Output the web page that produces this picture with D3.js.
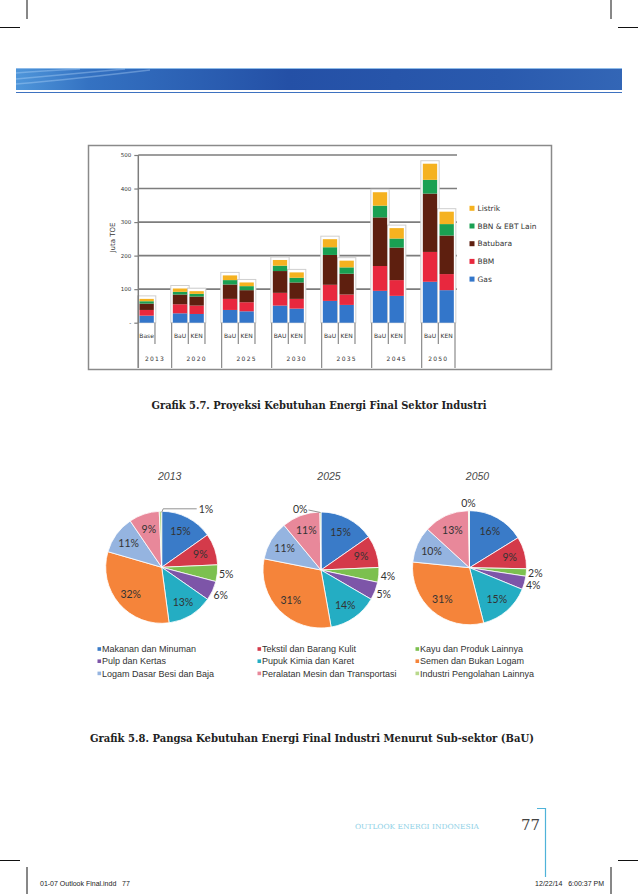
<!DOCTYPE html>
<html>
<head>
<meta charset="utf-8">
<script src="https://cdn.jsdelivr.net/npm/d3@7"></script>
<style>
  body { margin: 0; background: #fff; }
  svg { display: block; }
</style>
</head>
<body>
<script>
// --- bar chart data (Juta TOE) ---
var years = ["2013", "2020", "2025", "2030", "2035", "2045", "2050"];
var scenarios = [["Base"], ["BaU", "KEN"], ["BaU", "KEN"], ["BAU", "KEN"], ["BaU", "KEN"], ["BaU", "KEN"], ["BaU", "KEN"]];
var gas      = [21, 28, 26, 38, 34, 51, 42, 65, 53, 95, 80, 122, 97];
var bbm      = [17, 27, 25, 33, 27, 38, 29, 48, 31, 74, 47, 89, 48];
var batubara = [19, 29, 27, 43, 36, 65, 49, 89, 62, 145, 97, 174, 115];
var bbn      = [7, 8, 8, 13, 12, 16, 14, 23, 19, 35, 27, 41, 34];
var listrik  = [7, 10, 8, 14, 11, 17, 16, 24, 20, 40, 31, 48, 37];
var fuelNames = ["Gas", "BBM", "Batubara", "BBN & EBT Lain", "Listrik"];
var yTicks = [0, 100, 200, 300, 400, 500];

// --- pie data (% share, BaU) ---
var pieYears = ["2013", "2025", "2050"];
var sectors = ["Makanan dan Minuman", "Tekstil dan Barang Kulit", "Kayu dan Produk Lainnya",
  "Pulp dan Kertas", "Pupuk Kimia dan Karet", "Semen dan Bukan Logam",
  "Logam Dasar Besi dan Baja", "Peralatan Mesin dan Transportasi", "Industri Pengolahan Lainnya"];
var share2013 = [15.2, 9.1, 4.8, 5.6, 13.2, 31.6, 11.0, 8.8, 0.7];
var share2025 = [15.3, 9.0, 4.1, 5.0, 13.8, 30.9, 10.9, 10.7, 0.3];
var share2050 = [16.2, 9.1, 2.1, 3.8, 14.8, 30.6, 10.2, 12.9, 0.3];

var W = 638, H = 894;
var svg = d3.select("body").append("svg").attr("width", W).attr("height", H);
var defs = svg.append("defs");

// ---------- page furniture ----------
var crop = svg.append("g").attr("stroke", "#111").attr("stroke-width", 1);
[[27, 0, 27, 19], [611, 0, 611, 19], [0, 27.5, 20, 27.5], [618, 27.5, 638, 27.5],
 [0, 860.5, 20, 860.5], [618, 860.5, 638, 860.5], [27, 867, 27, 894], [611, 867, 611, 894]]
  .forEach(function(l) {
    crop.append("line").attr("x1", l[0]).attr("y1", l[1]).attr("x2", l[2]).attr("y2", l[3]);
  });

var hg = defs.append("linearGradient").attr("id", "hdr");
[["0%", "#4f96da"], ["12%", "#3472c2"], ["45%", "#2450a6"], ["80%", "#2a5aae"], ["100%", "#3366b6"]]
  .forEach(function(s) { hg.append("stop").attr("offset", s[0]).attr("stop-color", s[1]); });
svg.append("rect").attr("x", 16).attr("y", 68).attr("width", 606).attr("height", 22).attr("fill", "url(#hdr)");
svg.append("line").attr("x1", 16).attr("x2", 622).attr("y1", 68.5).attr("y2", 68.5)
  .attr("stroke", "#8fbbe8").attr("stroke-width", 1);
["M16,79 Q60,75 125,69", "M16,84 Q75,79 150,70", "M16,73 Q40,71 80,69"].forEach(function(p) {
  svg.append("path").attr("d", p).attr("fill", "none").attr("stroke", "#bfe0ff")
    .attr("stroke-opacity", 0.35).attr("stroke-width", 1.6);
});
svg.append("line").attr("x1", 16).attr("x2", 622).attr("y1", 92.5).attr("y2", 92.5)
  .attr("stroke", "#3e72c0").attr("stroke-width", 1);

// ---------- bar chart ----------
svg.append("rect").attr("x", 88.5).attr("y", 145.5).attr("width", 463).attr("height", 224)
  .attr("fill", "#fff").attr("stroke", "#8a8a8a").attr("stroke-width", 1.5);

var slotKeys = [], barKeys = [], groupEdges = [];
years.forEach(function(yr, i) {
  groupEdges.push(slotKeys.length);
  scenarios[i].forEach(function(sc) { slotKeys.push(yr + "|" + sc); barKeys.push(yr + "|" + sc); });
  if (i < years.length - 1) slotKeys.push(yr + "|gap");
});
groupEdges.push(slotKeys.length);

var x = d3.scaleBand().domain(slotKeys).range([138.3, 455]).paddingInner(0.14).paddingOuter(0.07);
var y = d3.scaleLinear().domain([0, 500]).range([322.7, 155]);
var slotStart = function(i) { return x.range()[0] + i * x.step(); };

var rows = barKeys.map(function(k, i) {
  return { key: k, Gas: gas[i], BBM: bbm[i], Batubara: batubara[i], BBN: bbn[i], Listrik: listrik[i] };
});
var stackKeys = ["Gas", "BBM", "Batubara", "BBN", "Listrik"];
var colors = { Gas: "#3376ca", BBM: "#e8283e", Batubara: "#5e1f0f", BBN: "#1aa052", Listrik: "#f5b220" };
var series = d3.stack().keys(stackKeys)(rows);

// gridlines
svg.append("g").selectAll("line").data(yTicks.slice(1)).join("line")
  .attr("x1", 138.3).attr("x2", 457).attr("y1", function(d) { return y(d); }).attr("y2", function(d) { return y(d); })
  .attr("stroke", "#7d7d7d").attr("stroke-width", 1.6);

// frames round each bar
svg.append("g").selectAll("rect").data(rows).join("rect")
  .attr("x", function(d) { return x(d.key) - 2; })
  .attr("width", x.bandwidth() + 4)
  .attr("y", function(d) { return y(d.Gas + d.BBM + d.Batubara + d.BBN + d.Listrik) - 3; })
  .attr("height", function(d) { return y(0) - y(d.Gas + d.BBM + d.Batubara + d.BBN + d.Listrik) + 3; })
  .attr("fill", "#fff").attr("stroke", "#cfcfcf").attr("stroke-width", 1);

svg.append("g").selectAll("g").data(series).join("g")
  .attr("fill", function(s) { return colors[s.key]; })
  .selectAll("rect").data(function(s) { return s; }).join("rect")
  .attr("x", function(d) { return x(d.data.key); })
  .attr("width", x.bandwidth())
  .attr("y", function(d) { return y(d[1]); })
  .attr("height", function(d) { return y(d[0]) - y(d[1]); });

// y axis
var yAxis = svg.append("g").attr("transform", "translate(138.3,0)")
  .call(d3.axisLeft(y).tickValues(yTicks).tickSize(4).tickPadding(3)
    .tickFormat(function(d) { return d === 0 ? "-" : d; }));
yAxis.select(".domain").remove();
yAxis.selectAll("line").attr("stroke", "#7d7d7d").attr("stroke-width", 1.2);
yAxis.selectAll("text").attr("font-family", "DejaVu Sans").attr("font-size", 5.5).attr("fill", "#333");
svg.append("line").attr("x1", 138.3).attr("x2", 138.3).attr("y1", 155).attr("y2", 368)
  .attr("stroke", "#7d7d7d").attr("stroke-width", 1.5);

svg.append("text").attr("transform", "translate(115,237.5) rotate(-90)")
  .attr("text-anchor", "middle").attr("font-family", "DejaVu Sans").attr("font-size", 7)
  .attr("fill", "#333").text("Juta TOE");

// category axis: scenario row and year row
var cat = svg.append("g").attr("stroke", "#8a8a8a").attr("stroke-width", 1.2);
d3.range(slotKeys.length + 1).forEach(function(i) {
  cat.append("line").attr("x1", slotStart(i)).attr("x2", slotStart(i)).attr("y1", 322.7).attr("y2", 344);
});
groupEdges.forEach(function(i) {
  cat.append("line").attr("x1", slotStart(i)).attr("x2", slotStart(i)).attr("y1", 344).attr("y2", 368);
});
svg.append("g").selectAll("text").data(barKeys).join("text")
  .attr("x", function(k) { return x(k) + x.bandwidth() / 2; }).attr("y", 338)
  .attr("text-anchor", "middle").attr("font-family", "DejaVu Sans").attr("font-size", 6)
  .attr("fill", "#333").text(function(k) { return k.split("|")[1]; });
svg.append("g").selectAll("text").data(years).join("text")
  .attr("x", function(d, i) { return (slotStart(groupEdges[i]) + slotStart(groupEdges[i + 1])) / 2; })
  .attr("y", 360.5).attr("text-anchor", "middle").attr("font-family", "DejaVu Sans")
  .attr("font-size", 6).attr("letter-spacing", 1.2).attr("fill", "#333").text(function(d) { return d; });

// legend
var leg = svg.append("g").selectAll("g").data(stackKeys.slice().reverse()).join("g")
  .attr("transform", function(d, i) { return "translate(469.5," + (208.3 + i * 17.7) + ")"; });
leg.append("rect").attr("x", 0).attr("y", -2.5).attr("width", 5).attr("height", 5)
  .attr("fill", function(d) { return colors[d]; });
leg.append("text").attr("x", 8).attr("y", 2.7).attr("font-family", "DejaVu Sans").attr("font-size", 7.5)
  .attr("fill", "#333").text(function(d) { return fuelNames[stackKeys.indexOf(d)]; });

svg.append("text").attr("x", 319).attr("y", 409).attr("text-anchor", "middle")
  .attr("font-family", "DejaVu Serif").attr("font-weight", "bold").attr("font-size", 10.5)
  .attr("textLength", 335).attr("lengthAdjust", "spacingAndGlyphs").attr("fill", "#222")
  .text("Grafik 5.7. Proyeksi Kebutuhan Energi Final Sektor Industri");

// ---------- pies ----------
var sectorColors = ["#3a7bc8", "#d43a4a", "#7cc04f", "#7d55a8", "#24adc3", "#f5843a", "#95b4e0", "#e8889a", "#b9d98c"];
var pieShares = [share2013, share2025, share2050];
var pieGeo = [{ cx: 161.7, cy: 567.3, r: 56 }, { cx: 321, cy: 570, r: 58 }, { cx: 469.5, cy: 567.7, r: 57 }];
var pie = d3.pie().sort(null).value(function(d) { return d; });

pieShares.forEach(function(vals, p) {
  var g = pieGeo[p];
  var gp = svg.append("g").attr("transform", "translate(" + g.cx + "," + g.cy + ")");
  var arc = d3.arc().innerRadius(0).outerRadius(g.r);
  var arcs = pie(vals);
  gp.selectAll("path").data(arcs).join("path").attr("d", arc)
    .attr("fill", function(d, i) { return sectorColors[i]; })
    .attr("stroke", "#fff").attr("stroke-width", 0.8);

  svg.append("text").attr("x", g.cx + 8).attr("y", 480).attr("text-anchor", "middle")
    .attr("font-family", "Liberation Sans").attr("font-style", "italic").attr("font-size", 10.5)
    .attr("fill", "#4a4a4a").text(pieYears[p]);

  arcs.forEach(function(a, i) {
    var pct = Math.round(a.data) + "%";
    var mid = (a.startAngle + a.endAngle) / 2;
    var t = gp.append("text").attr("font-family", "Lato").attr("font-size", 10.5).attr("fill", "#333")
      .attr("dominant-baseline", "central").text(pct);
    if (a.data >= 8) {
      var rr = g.r * 0.73;
      t.attr("x", Math.sin(mid) * rr).attr("y", -Math.cos(mid) * rr).attr("text-anchor", "middle");
    } else if (a.data >= 1.5) {
      var ro = g.r * 1.16;
      t.attr("x", Math.sin(mid) * ro).attr("y", -Math.cos(mid) * ro).attr("text-anchor", "middle");
    } else if (p === 0) {
      gp.append("path").attr("d", "M0," + (-g.r + 1) + " L1.5," + (-g.r - 2.5) + " H35")
        .attr("fill", "none").attr("stroke", "#777").attr("stroke-width", 0.8);
      t.attr("x", 37).attr("y", -g.r - 2.5).attr("text-anchor", "start");
    } else if (p === 1) {
      gp.append("path").attr("d", "M-0.5," + (-g.r + 0.5) + " L-12.5," + (-g.r - 2))
        .attr("fill", "none").attr("stroke", "#777").attr("stroke-width", 0.8);
      t.attr("x", -13.5).attr("y", -g.r - 3.5).attr("text-anchor", "end");
    } else {
      t.attr("x", -1).attr("y", -g.r - 8).attr("text-anchor", "middle");
    }
  });
});

// pie legend
var lg = svg.append("g").selectAll("g").data(sectors).join("g")
  .attr("transform", function(d, i) {
    var col = [97.5, 257.5, 415.5][i % 3];
    return "translate(" + col + "," + (649 + Math.floor(i / 3) * 12.2) + ")";
  });
lg.append("rect").attr("x", 0).attr("y", -1.8).attr("width", 3.6).attr("height", 3.6)
  .attr("fill", function(d, i) { return sectorColors[i]; });
lg.append("text").attr("x", 4.5).attr("y", 3.2).attr("font-family", "Liberation Sans")
  .attr("font-size", 9).attr("fill", "#333").text(function(d) { return d; });

svg.append("text").attr("x", 312).attr("y", 742).attr("text-anchor", "middle")
  .attr("font-family", "DejaVu Serif").attr("font-weight", "bold").attr("font-size", 10.5)
  .attr("textLength", 444).attr("lengthAdjust", "spacingAndGlyphs").attr("fill", "#222")
  .text("Grafik 5.8. Pangsa Kebutuhan Energi Final Industri Menurut Sub-sektor (BaU)");

// ---------- footer ----------
svg.append("text").attr("x", 355).attr("y", 829).attr("font-family", "DejaVu Serif")
  .attr("font-size", 7).attr("fill", "#8ccfe6").attr("textLength", 124)
  .attr("lengthAdjust", "spacingAndGlyphs").text("OUTLOOK ENERGI INDONESIA");
svg.append("text").attr("x", 521).attr("y", 830).attr("font-family", "DejaVu Serif")
  .attr("font-size", 15).attr("fill", "#444").text("77");
svg.append("path").attr("d", "M537,808.5 H545.5 V877").attr("fill", "none")
  .attr("stroke", "#4fb3d9").attr("stroke-width", 1.2);
svg.append("text").attr("x", 40).attr("y", 886).attr("font-family", "Liberation Sans")
  .attr("font-size", 7).attr("fill", "#222").attr("xml:space", "preserve").text("01-07 Outlook Final.indd   77");
svg.append("text").attr("x", 604).attr("y", 886).attr("text-anchor", "end").attr("font-family", "Liberation Sans")
  .attr("font-size", 7).attr("fill", "#222").attr("xml:space", "preserve").text("12/22/14   6:00:37 PM");
</script>
</body>
</html>
